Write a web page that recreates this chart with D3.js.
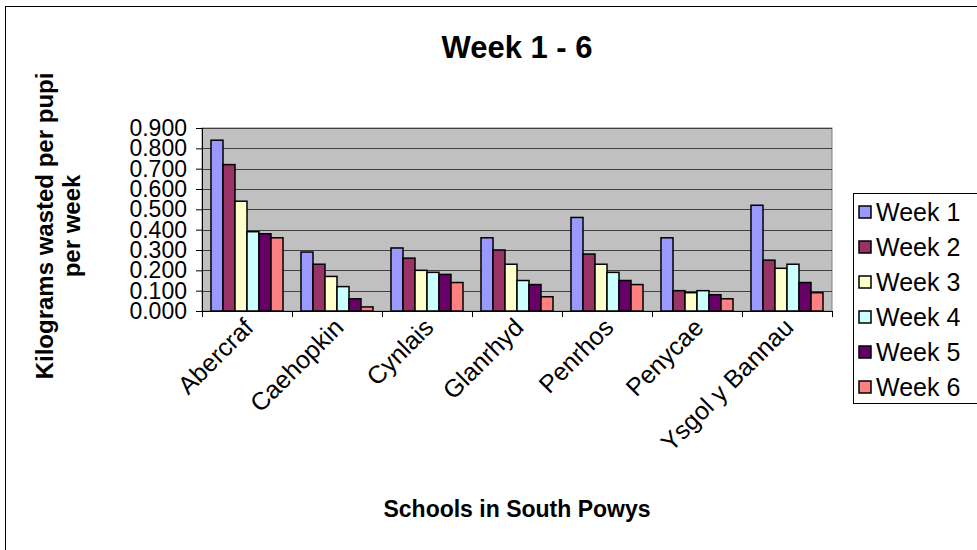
<!DOCTYPE html>
<html>
<head>
<meta charset="utf-8">
<script src="https://cdn.jsdelivr.net/npm/d3@7"></script>
<style>
  body { margin: 0; background: #fff; }
  text { font-family: "Liberation Sans", Arial, sans-serif; }
</style>
</head>
<body>
<div id="chart"></div>
<script>
// data
const schools = ["Abercraf", "Caehopkin", "Cynlais", "Glanrhyd", "Penrhos", "Penycae", "Ysgol y Bannau"];
const weeks = ["Week 1", "Week 2", "Week 3", "Week 4", "Week 5", "Week 6"];
const week1 = [0.84, 0.29, 0.31, 0.36, 0.46, 0.36, 0.52];
const week2 = [0.72, 0.23, 0.26, 0.30, 0.28, 0.10, 0.25];
const week3 = [0.54, 0.17, 0.20, 0.23, 0.23, 0.09, 0.21];
const week4 = [0.39, 0.12, 0.19, 0.15, 0.19, 0.10, 0.23];
const week5 = [0.38, 0.06, 0.18, 0.13, 0.15, 0.08, 0.14];
const week6 = [0.36, 0.02, 0.14, 0.07, 0.13, 0.06, 0.09];
const yTicks = [0, 0.1, 0.2, 0.3, 0.4, 0.5, 0.6, 0.7, 0.8, 0.9];

const series = [week1, week2, week3, week4, week5, week6];
const colors = ["#9999FF", "#993366", "#FFFFCC", "#CCFFFF", "#660066", "#FF8080"];

const width = 977;
const height = 550;
const plotLeft = 202, plotRight = 832, plotTop = 128, plotBottom = 311;
const font = "'Liberation Sans', Arial, sans-serif";

const svg = d3.select("#chart").append("svg")
    .attr("width", width)
    .attr("height", height);

// chart border (runs off the right and bottom like the original)
svg.append("rect")
    .attr("x", 5.5).attr("y", 6.5)
    .attr("width", width + 10).attr("height", height + 10)
    .attr("fill", "none").attr("stroke", "#000");

const x0 = d3.scaleBand(schools, [plotLeft, plotRight]);
const x1 = d3.scaleBand(weeks, [0, x0.bandwidth()]).paddingOuter(0.75);
const y = d3.scaleLinear([0, 0.9], [plotBottom, plotTop]);

// plot area
svg.append("rect")
    .attr("x", plotLeft).attr("y", plotTop)
    .attr("width", plotRight - plotLeft).attr("height", plotBottom - plotTop)
    .attr("fill", "#C0C0C0").attr("stroke", "#808080");

// grid lines
svg.append("g")
  .selectAll("line")
  .data(yTicks.slice(1))
  .join("line")
    .attr("x1", plotLeft).attr("x2", plotRight)
    .attr("y1", d => Math.round(y(d)) + 0.5).attr("y2", d => Math.round(y(d)) + 0.5)
    .attr("stroke", "#404040");

// bars
const groups = svg.append("g")
  .selectAll("g")
  .data(schools)
  .join("g")
    .attr("transform", d => `translate(${x0(d)},0)`);

groups.selectAll("rect")
  .data((d, i) => weeks.map((w, j) => ({ week: w, value: series[j][i], color: colors[j] })))
  .join("rect")
    .attr("x", d => x1(d.week))
    .attr("y", d => y(d.value))
    .attr("width", x1.bandwidth())
    .attr("height", d => y(0) - y(d.value))
    .attr("fill", d => d.color)
    .attr("stroke", "#000")
    .attr("stroke-width", 1.5);

// y axis
svg.append("g")
    .attr("transform", `translate(${plotLeft},0)`)
    .call(d3.axisLeft(y).tickValues(yTicks).tickFormat(d3.format(".3f")).tickSize(6).tickPadding(9))
    .call(g => g.selectAll("text").attr("font-size", 23).attr("fill", "#000")
        .style("font-family", font));

// x axis: ticks between categories, labels rotated
const xb = d3.scaleLinear([0, schools.length], [plotLeft, plotRight]);
svg.append("g")
    .attr("transform", `translate(0,${plotBottom})`)
    .call(d3.axisBottom(xb).tickValues(d3.range(schools.length + 1)).tickFormat("").tickSize(6));

svg.append("g")
    .attr("transform", `translate(0,${plotBottom})`)
    .call(d3.axisBottom(x0).tickSize(0))
    .call(g => g.select(".domain").remove())
    .call(g => g.selectAll("text")
        .attr("font-size", 25)
        .attr("fill", "#000")
        .style("font-family", font)
        .attr("text-anchor", "end")
        .attr("dy", null)
        .attr("y", 0)
        .attr("transform", "translate(8,18) rotate(-45)"));

// titles
svg.append("text")
    .attr("x", 517).attr("y", 58)
    .attr("text-anchor", "middle")
    .attr("font-size", 31).attr("font-weight", "bold")
    .text("Week 1 - 6");

svg.append("text")
    .attr("x", 517).attr("y", 517)
    .attr("text-anchor", "middle")
    .attr("font-size", 23).attr("font-weight", "bold")
    .text("Schools in South Powys");

const yTitle = svg.append("text")
    .attr("transform", `translate(53,226) rotate(-90)`)
    .attr("text-anchor", "middle")
    .attr("font-size", 24).attr("font-weight", "bold");
yTitle.append("tspan").attr("x", 0).attr("dy", 0).text("Kilograms wasted per pupi");
yTitle.append("tspan").attr("x", 0).attr("dy", 27).text("per week");

// legend
const legend = svg.append("g").attr("transform", "translate(853,193)");
legend.append("rect")
    .attr("x", 0.5).attr("y", 0.5)
    .attr("width", 140).attr("height", 210)
    .attr("fill", "#fff").attr("stroke", "#000");

const items = legend.selectAll("g")
  .data(weeks)
  .join("g")
    .attr("transform", (d, i) => `translate(0,${19 + i * 35})`);
items.append("rect")
    .attr("x", 6).attr("y", -6)
    .attr("width", 12).attr("height", 12)
    .attr("fill", (d, i) => colors[i])
    .attr("stroke", "#000").attr("stroke-width", 1.5);
items.append("text")
    .attr("x", 23).attr("y", 0).attr("dy", "0.36em")
    .attr("font-size", 25)
    .text(d => d);
</script>
</body>
</html>
